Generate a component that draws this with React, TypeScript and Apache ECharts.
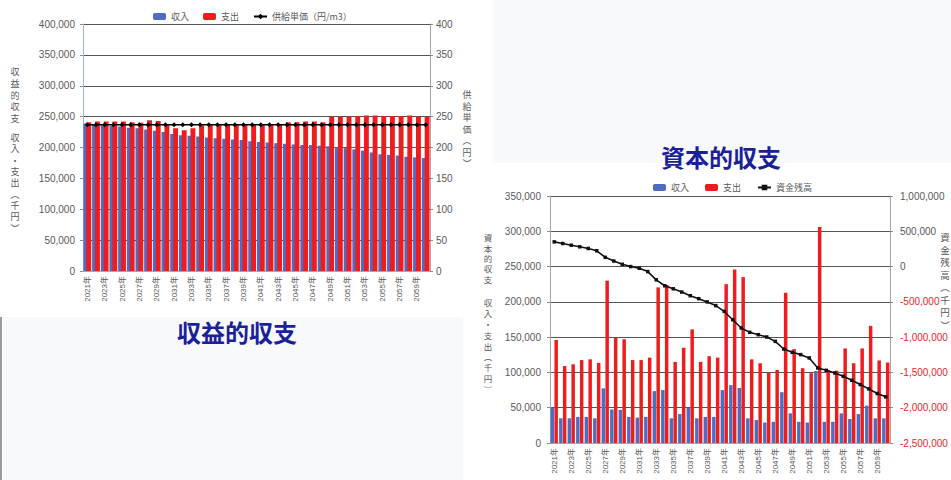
import React, { useEffect, useRef } from "react";
import * as echarts from "echarts";

// 年度（2021年〜2060年）
const years = [
  "2021年", "2022年", "2023年", "2024年", "2025年", "2026年", "2027年", "2028年", "2029年", "2030年",
  "2031年", "2032年", "2033年", "2034年", "2035年", "2036年", "2037年", "2038年", "2039年", "2040年",
  "2041年", "2042年", "2043年", "2044年", "2045年", "2046年", "2047年", "2048年", "2049年", "2050年",
  "2051年", "2052年", "2053年", "2054年", "2055年", "2056年", "2057年", "2058年", "2059年", "2060年",
];

// 収益的収支（千円）
const revenueIncome = [
  239000, 238000, 236000, 235000, 234000, 232000, 231000, 229000, 227000, 225000,
  222000, 220000, 219000, 218000, 216000, 215000, 214000, 213000, 212000, 210000,
  209000, 208000, 207000, 206000, 205000, 204000, 204000, 203000, 202000, 201000,
  199000, 197000, 195000, 192000, 189000, 188000, 187000, 185000, 184000, 183000,
];
const revenueExpense = [
  241000, 242000, 242000, 242000, 242000, 241000, 240000, 244000, 243000, 237000,
  231000, 228000, 231000, 236000, 237000, 237000, 237000, 237000, 237000, 237000,
  237000, 237000, 237000, 241000, 241000, 242000, 242000, 241000, 250000, 250000,
  250000, 251000, 252000, 252000, 251000, 251000, 251000, 252000, 250000, 250000,
];
// 供給単価（円/m3）
const unitPrice = [
  237, 237, 237, 237, 237, 237, 237, 237, 237, 237,
  237, 237, 237, 237, 237, 237, 237, 237, 237, 237,
  237, 237, 237, 237, 237, 237, 237, 237, 237, 237,
  237, 237, 237, 237, 237, 237, 237, 237, 237, 237,
];

// 資本的収支（千円）
const capitalIncome = [
  50000, 35000, 35000, 37000, 37000, 35000, 77500, 47500, 47000, 37000,
  36000, 37000, 73500, 75000, 35000, 41000, 50000, 35000, 37000, 37000,
  75000, 82000, 78000, 35000, 32500, 29000, 30000, 72000, 42000, 30000,
  29000, 102000, 30000, 30000, 42000, 34000, 41000, 53000, 35000, 35000,
];
const capitalExpense = [
  146000, 109000, 111500, 117500, 118500, 113500, 230000, 149500, 147000, 117500,
  117500, 121000, 220500, 224000, 115000, 135000, 161000, 115000, 123000, 121000,
  225000, 246000, 235000, 118500, 113000, 100000, 103500, 213000, 133000, 106000,
  99000, 306000, 103500, 102500, 134000, 113000, 134000, 166000, 117000, 114000,
];
// 資金残高（千円）
const fundBalance = [
  350000, 327000, 303000, 280000, 257000, 224000, 131000, 79000, 32000, 0,
  -24000, -71000, -188000, -272000, -315000, -361000, -413000, -455000, -501000, -553000,
  -636000, -753000, -870000, -932000, -965000, -998000, -1060000, -1168000, -1215000, -1248000,
  -1295000, -1436000, -1470000, -1507000, -1555000, -1611000, -1672000, -1733000, -1799000, -1846000,
];

const BLUE = "#4d6cc2";
const RED = "#ee1c1c";
const LABEL = "#595959";
const GRIDLINE = "#555555";
const NUM_FONT = "'Liberation Sans', Arial, 'Noto Sans CJK JP', sans-serif";
const JP_FONT = "'Noto Sans CJK JP', 'Liberation Sans', sans-serif";

const fmt = (v: number) => v.toLocaleString("en-US");

// 縦書きの軸タイトル：1文字ずつ縦に並べる
const vtext = (x: number, top: number, s: string, step: number, size: number) =>
  s.split("").map((ch, i) => ({
    type: "text",
    z: 20,
    x,
    y: top + step * i + step / 2,
    style: {
      text: ch,
      fill: LABEL,
      font: `${size}px ${JP_FONT}`,
      align: "center",
      verticalAlign: "middle",
    },
  }));

export default function App() {
  const ref = useRef<HTMLDivElement>(null);

  useEffect(() => {
    document.body.style.margin = "0";
    const chart = echarts.init(ref.current!, null, { renderer: "svg" });

    const valueAxisBase = {
      type: "value",
      axisLine: { show: true, lineStyle: { color: "#a6a6a6" } },
      axisTick: { show: true, length: 3, lineStyle: { color: "#8c8c8c" } },
      splitLine: { show: false },
    };

    const option: any = {
      animation: false,
      backgroundColor: "#ffffff",
      textStyle: { fontFamily: JP_FONT },
      legend: [
        {
          left: 148,
          top: 7,
          itemWidth: 13,
          itemHeight: 7,
          itemGap: 14,
          textStyle: { fontSize: 9, color: LABEL, fontFamily: JP_FONT },
          data: ["収入", "支出", "供給単価（円/m3）"],
        },
        {
          left: 648,
          top: 178,
          itemWidth: 13,
          itemHeight: 7,
          itemGap: 16,
          textStyle: { fontSize: 9, color: LABEL, fontFamily: JP_FONT },
          data: ["収入", "支出", "資金残高"],
        },
      ],
      grid: [
        { left: 83, right: 521, top: 24, bottom: 209 },
        { left: 550, right: 61, top: 196, bottom: 37 },
      ],
      xAxis: [0, 1].map((g) => ({
        type: "category",
        gridIndex: g,
        data: years,
        axisTick: { show: false },
        axisLine: { show: true, lineStyle: { color: "#a6a6a6" } },
        axisLabel: {
          rotate: 90,
          interval: 1,
          fontSize: 8,
          color: LABEL,
          margin: 5,
          fontFamily: NUM_FONT,
        },
      })),
      yAxis: [
        {
          ...valueAxisBase,
          gridIndex: 0,
          position: "left",
          min: 0,
          max: 400000,
          interval: 50000,
          axisLine: { show: true, lineStyle: { color: "#9fb4dc" } },
          axisLabel: { formatter: fmt, fontSize: 10, color: LABEL, margin: 8, fontFamily: NUM_FONT },
          splitLine: { show: true, lineStyle: { color: GRIDLINE, width: 1 } },
        },
        {
          ...valueAxisBase,
          gridIndex: 0,
          position: "right",
          min: 0,
          max: 400,
          interval: 50,
          axisLabel: { fontSize: 10, color: LABEL, margin: 6, fontFamily: NUM_FONT },
        },
        {
          ...valueAxisBase,
          gridIndex: 1,
          position: "left",
          min: 0,
          max: 350000,
          interval: 50000,
          axisLabel: { formatter: fmt, fontSize: 10, color: LABEL, margin: 9, fontFamily: NUM_FONT },
          splitLine: { show: true, lineStyle: { color: GRIDLINE, width: 1 } },
        },
        {
          ...valueAxisBase,
          gridIndex: 1,
          position: "right",
          min: -2500000,
          max: 1000000,
          interval: 500000,
          axisLabel: {
            fontSize: 10,
            color: LABEL,
            margin: 10,
            fontFamily: NUM_FONT,
            formatter: (v: number) => (v < 0 ? `{n|${fmt(v)}}` : fmt(v)),
            rich: { n: { color: "#e8262b", fontSize: 10, fontFamily: NUM_FONT } },
          },
        },
      ],
      series: [
        {
          name: "収入",
          type: "bar",
          xAxisIndex: 0,
          yAxisIndex: 0,
          data: revenueIncome,
          itemStyle: { color: BLUE },
          barGap: "-40%",
          barCategoryGap: "10%",
        },
        {
          name: "支出",
          type: "bar",
          xAxisIndex: 0,
          yAxisIndex: 0,
          data: revenueExpense,
          itemStyle: { color: RED },
          barGap: "-40%",
          barCategoryGap: "10%",
        },
        {
          name: "供給単価（円/m3）",
          type: "line",
          xAxisIndex: 0,
          yAxisIndex: 1,
          data: unitPrice,
          symbol: "diamond",
          symbolSize: 5,
          lineStyle: { color: "#000000", width: 1.5 },
          itemStyle: { color: "#000000" },
          z: 5,
        },
        {
          name: "収入",
          type: "bar",
          xAxisIndex: 1,
          yAxisIndex: 2,
          data: capitalIncome,
          itemStyle: { color: BLUE },
          barGap: "10%",
          barCategoryGap: "14%",
        },
        {
          name: "支出",
          type: "bar",
          xAxisIndex: 1,
          yAxisIndex: 2,
          data: capitalExpense,
          itemStyle: { color: RED },
          barGap: "10%",
          barCategoryGap: "14%",
        },
        {
          name: "資金残高",
          type: "line",
          xAxisIndex: 1,
          yAxisIndex: 3,
          data: fundBalance,
          symbol: "rect",
          symbolSize: 3.5,
          lineStyle: { color: "#111111", width: 1.6 },
          itemStyle: { color: "#111111" },
          z: 5,
        },
      ],
      graphic: [
        // 背景の淡いパネル
        { type: "rect", z: -10, shape: { x: 3, y: 317, width: 460, height: 163 }, style: { fill: "#f8f9fb" } },
        { type: "rect", z: -10, shape: { x: 0, y: 317, width: 2, height: 163 }, style: { fill: "#9a9a9a" } },
        { type: "rect", z: -10, shape: { x: 493, y: 0, width: 458, height: 163 }, style: { fill: "#f8f9fb" } },
        // 見出し
        {
          type: "text",
          z: 20,
          x: 237,
          y: 331,
          style: {
            text: "収益的収支",
            fill: "#1b1f9a",
            font: `bold 24px ${JP_FONT}`,
            align: "center",
            verticalAlign: "middle",
          },
        },
        {
          type: "text",
          z: 20,
          x: 721,
          y: 156,
          style: {
            text: "資本的収支",
            fill: "#1b1f9a",
            font: `bold 24px ${JP_FONT}`,
            align: "center",
            verticalAlign: "middle",
          },
        },
        // 軸タイトル
        ...vtext(15, 66, "収益的収支", 11.7, 9),
        ...vtext(15, 132, "収入・支出︵千円︶", 11.3, 9),
        ...vtext(467, 89, "供給単価︵円︶", 11.5, 9),
        ...vtext(488, 232, "資本的収支", 10.4, 8.5),
        ...vtext(488, 297, "収入・支出︵千円︶", 10.8, 8.5),
        ...vtext(945, 231, "資金残高︵千円︶", 12.5, 9.5),
      ],
    };

    chart.setOption(option);
    return () => chart.dispose();
  }, []);

  return <div ref={ref} style={{ width: 951, height: 480 }} />;
}
